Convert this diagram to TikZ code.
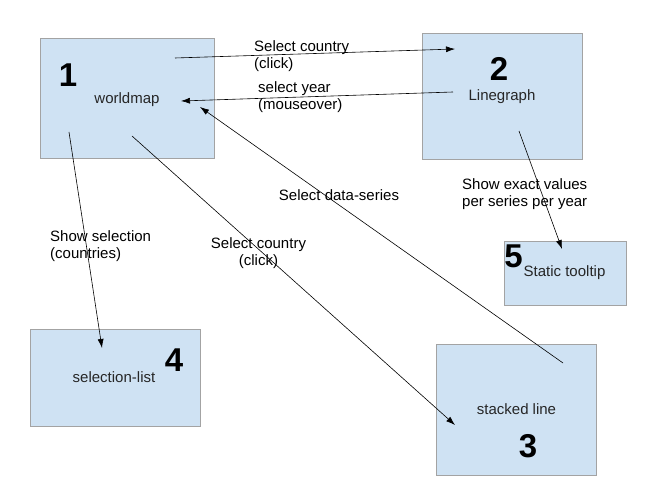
\documentclass[tikz,border=0pt]{standalone}
\usepackage{fontspec}
\setmainfont{Liberation Sans}
\usetikzlibrary{arrows.meta}

\definecolor{viewfill}{HTML}{CFE2F3}
\definecolor{viewline}{HTML}{A3A3A3}

\tikzset{
  view/.style={draw=viewline, line width=1pt, fill=viewfill, inner sep=0pt},
  num/.style={font=\fontsize{33}{33}\selectfont\bfseries, inner sep=0pt},
  viewname/.style={font=\fontsize{15}{17}\selectfont, text=black!85, inner sep=0pt},
  note/.style={font=\fontsize{15}{17.5}\selectfont, align=left, inner sep=0pt},
  link/.style={-{Latex[length=9pt,width=6pt]}, line width=0.6pt},
}

\begin{document}
\begin{tikzpicture}[x=1pt,y=-1pt]
  \useasboundingbox (0,0) rectangle (653,494);

  % Views
  \node[view, minimum width=174pt, minimum height=120pt] (map) at (127,99) {};
  \node[view, minimum width=160pt, minimum height=126pt] (graph) at (502,97) {};
  \node[view, minimum width=160pt, minimum height=131pt] (stack) at (516,409.5) {};
  \node[view, minimum width=170pt, minimum height=97pt] (list) at (115,377.5) {};
  \node[view, minimum width=122pt, minimum height=63pt] (tip) at (565,273.5) {};

  % Numbers and names
  \node[num] (mapnum) at (68,75) {1};
  \node[viewname] (mapname) at (127,100) {worldmap};
  \node[num] (graphnum) at (499,69) {2};
  \node[viewname] (graphname) at (502,97) {Linegraph};
  \node[num] (stacknum) at (528,446) {3};
  \node[viewname] (stackname) at (516.5,409) {stacked line};
  \node[num] (listnum) at (174,360) {4};
  \node[viewname] (listname) at (114,377) {selection-list};
  \node[num] (tipnum) at (513.5,256.5) {5};
  \node[viewname] (tipname) at (564.5,273) {Static tooltip};

  % Connector ends
  \coordinate (mapA) at (175,58);
  \coordinate (mapB) at (181,101);
  \coordinate (mapC) at (200,107);
  \coordinate (mapD) at (132,136);
  \coordinate (mapE) at (69,132);
  \coordinate (graphA) at (455,49);
  \coordinate (graphB) at (453,92);
  \coordinate (graphC) at (519,131);
  \coordinate (stackA) at (563,363);
  \coordinate (stackB) at (455,425);
  \coordinate (listA) at (102,348);
  \coordinate (tipA) at (562,249);

  % Interactions
  \draw[link] (mapA) -- (graphA);
  \draw[link] (graphB) -- (mapB);
  \draw[link] (stackA) -- (mapC);
  \draw[link] (mapD) -- (stackB);
  \draw[link] (mapE) -- (listA);
  \draw[link] (graphC) -- (tipA);

  \node[note, anchor=west] (clicklabel) at (254,56) {Select country\\(click)};
  \node[note, anchor=west] (yearlabel) at (258,97) {select year\\(mouseover)};
  \node[note] (serieslabel) at (339,195) {Select data-series};
  \node[note, align=center] (stacklabel) at (258.5,253) {Select country\\(click)};
  \node[note, anchor=west] (listlabel) at (50,246) {Show selection\\(countries)};
  \node[note, anchor=west] (tiplabel) at (462,194) {Show exact values\\per series per year};
\end{tikzpicture}
\end{document}
